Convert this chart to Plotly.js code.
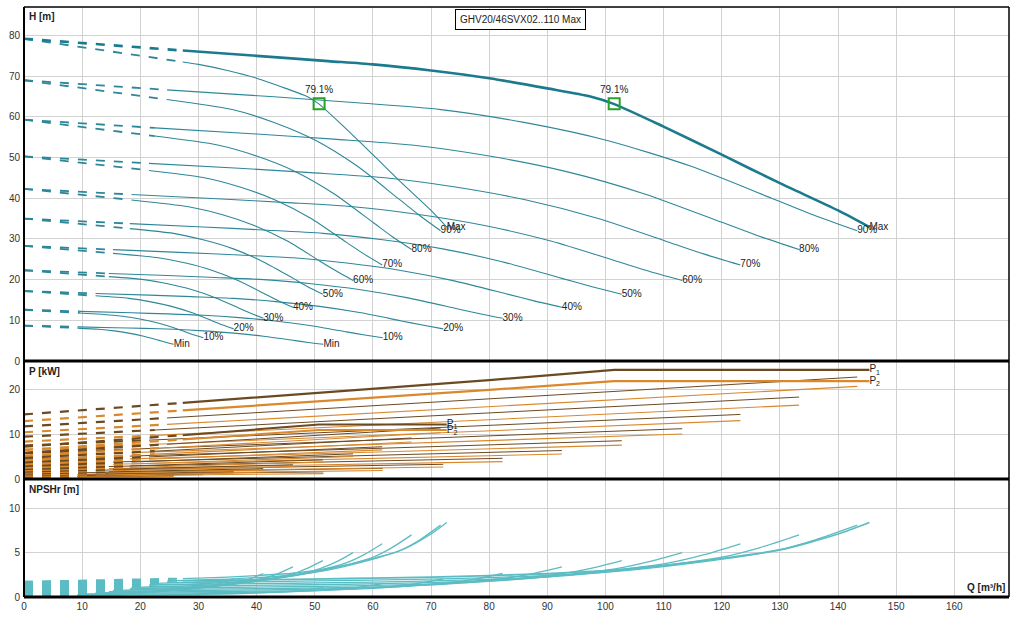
<!DOCTYPE html>
<html>
<head>
<meta charset="utf-8">
<script src="https://cdn.plot.ly/plotly-3.0.1.min.js"></script>
<style>html,body{margin:0;padding:0;background:#fff}</style>
</head>
<body>
<div id="chart" style="width:1030px;height:618px"></div>
<script>
// ---- data ----
const levels = ["Min","10%","20%","30%","40%","50%","60%","70%","80%","90%","Max"];
const title = "GHV20/46SVX02..110 Max";
const bepValue = "79.1%";
const bepQ = [50.75, 101.5];
const bepH = [63.2, 63.2];

// two pumps: flow points (first segment dashed), head and NPSHr at those points
const q2 = [
 [0, 9.2, 15.5, 20.6, 25.8, 30.9, 36.1, 41.2, 46.4, 48.9, 51.5],
 [0, 9.6, 18.5, 24.7, 30.9, 37.0, 43.2, 49.4, 55.5, 58.6, 61.7],
 [0, 12.3, 21.6, 28.8, 36.1, 43.3, 50.5, 57.7, 64.9, 68.5, 72.1],
 [0, 14.6, 24.7, 32.9, 41.2, 49.4, 57.6, 65.8, 74.1, 78.2, 82.3],
 [0, 15.3, 27.8, 37.0, 46.3, 55.5, 64.8, 74.0, 83.3, 87.9, 92.5],
 [0, 18.2, 30.8, 41.1, 51.4, 61.7, 72.0, 82.2, 92.5, 97.7, 102.8],
 [0, 18.5, 34.0, 45.3, 56.6, 67.9, 79.2, 90.6, 101.9, 107.5, 113.2],
 [0, 21.5, 37.0, 49.3, 61.6, 73.9, 86.2, 98.6, 110.9, 117.0, 123.2],
 [0, 22.5, 40.0, 53.3, 66.7, 80.0, 93.3, 106.6, 120.0, 126.6, 133.3],
 [0, 24.6, 43.0, 57.3, 71.7, 86.0, 100.3, 114.6, 129.0, 136.1, 143.3],
 [0, 27.3, 40, 52.3, 60, 70, 80, 90, 97.4, 101.4, 110, 120, 130, 140, 145.4]
];
const h2 = [
 [8.7, 8.39, 8.19, 8.01, 7.80, 7.41, 6.86, 6.08, 5.07, 4.56, 4.1],
 [12.6, 12.20, 11.84, 11.57, 11.25, 10.67, 9.84, 8.67, 7.15, 6.39, 5.7],
 [17.2, 16.60, 16.18, 15.81, 15.39, 14.60, 13.48, 11.90, 9.85, 8.83, 7.9],
 [22.3, 21.52, 21.00, 20.53, 20.00, 18.99, 17.58, 15.57, 12.98, 11.68, 10.5],
 [28.3, 27.36, 26.64, 26.04, 25.36, 24.07, 22.26, 19.69, 16.37, 14.71, 13.2],
 [35.0, 33.77, 32.95, 32.21, 31.37, 29.79, 27.56, 24.40, 20.31, 18.26, 16.4],
 [42.3, 40.93, 39.83, 38.93, 37.91, 36.0, 33.3, 29.48, 24.53, 22.05, 19.8],
 [50.3, 48.56, 47.36, 46.30, 45.09, 42.82, 39.62, 35.08, 29.21, 26.27, 23.6],
 [59.3, 57.29, 55.79, 54.52, 53.08, 50.37, 46.54, 41.12, 34.1, 30.59, 27.4],
 [69.0, 66.63, 64.93, 63.45, 61.79, 58.64, 54.2, 47.91, 39.77, 35.7, 32.0],
 [79.2, 76.3, 75.0, 73.7, 72.9, 71.4, 69.5, 67.0, 65.0, 63.2, 57.6, 50.7, 43.7, 37.0, 32.9]
];
const n2 = [
 [0.19, 0.21, 0.22, 0.24, 0.26, 0.30, 0.36, 0.49, 0.67, 0.84, 1.05],
 [0.27, 0.29, 0.32, 0.34, 0.37, 0.42, 0.52, 0.70, 0.96, 1.19, 1.5],
 [0.37, 0.40, 0.44, 0.47, 0.51, 0.58, 0.71, 0.96, 1.31, 1.63, 2.05],
 [0.48, 0.52, 0.57, 0.61, 0.66, 0.75, 0.91, 1.24, 1.70, 2.11, 2.65],
 [0.61, 0.67, 0.72, 0.78, 0.85, 0.96, 1.17, 1.59, 2.17, 2.70, 3.4],
 [0.75, 0.82, 0.88, 0.95, 1.03, 1.17, 1.42, 1.92, 2.63, 3.26, 4.1],
 [0.91, 0.99, 1.07, 1.16, 1.26, 1.42, 1.73, 2.34, 3.20, 3.98, 5.0],
 [1.08, 1.18, 1.28, 1.38, 1.50, 1.70, 2.06, 2.80, 3.84, 4.77, 6.0],
 [1.27, 1.38, 1.50, 1.61, 1.76, 1.99, 2.42, 3.28, 4.48, 5.57, 7.0],
 [1.48, 1.61, 1.74, 1.88, 2.04, 2.31, 2.80, 3.80, 5.19, 6.45, 8.1],
 [1.70, 1.85, 1.94, 2.05, 2.12, 2.24, 2.42, 2.62, 2.88, 3.03, 3.55, 4.35, 5.3, 7.1, 8.4]
];

// one pump
const q1 = [
 [0, 9.2, 12.9, 15.5, 18.0, 20.6, 23.2, 24.5, 25.75],
 [0, 9.6, 15.4, 18.5, 21.6, 24.7, 27.8, 29.3, 30.85],
 [0, 12.3, 18.0, 21.6, 25.2, 28.8, 32.4, 34.2, 36.05],
 [0, 14.6, 20.6, 24.7, 28.8, 32.9, 37.0, 39.1, 41.15],
 [0, 15.3, 23.1, 27.8, 32.4, 37.0, 41.6, 43.9, 46.25],
 [0, 18.2, 25.7, 30.8, 36.0, 41.1, 46.3, 48.8, 51.4],
 [0, 18.5, 28.3, 34.0, 39.6, 45.3, 50.9, 53.8, 56.6],
 [0, 21.5, 30.8, 37.0, 43.1, 49.3, 55.4, 58.5, 61.6],
 [0, 22.5, 33.3, 40.0, 46.7, 53.3, 60.0, 63.3, 66.65],
 [0, 24.6, 35.8, 43.0, 50.2, 57.3, 64.5, 68.1, 71.65],
 [0, 27.3, 30, 35, 40, 45, 48.7, 50.7, 55, 60, 65, 70, 72.7]
];
const h1 = [
 [8.7, 8.09, 7.80, 7.41, 6.86, 6.08, 5.07, 4.56, 4.1],
 [12.6, 11.81, 11.25, 10.67, 9.84, 8.67, 7.15, 6.39, 5.7],
 [17.2, 16.02, 15.39, 14.60, 13.48, 11.90, 9.85, 8.83, 7.9],
 [22.3, 20.73, 20.00, 18.99, 17.58, 15.57, 12.98, 11.68, 10.5],
 [28.3, 26.44, 25.36, 24.07, 22.26, 19.69, 16.37, 14.71, 13.2],
 [35.0, 32.54, 31.37, 29.79, 27.56, 24.40, 20.31, 18.26, 16.4],
 [42.3, 39.58, 37.91, 36.0, 33.3, 29.48, 24.53, 22.05, 19.8],
 [50.3, 46.83, 45.09, 42.82, 39.62, 35.08, 29.21, 26.27, 23.6],
 [59.3, 55.28, 53.08, 50.37, 46.54, 41.12, 34.1, 30.59, 27.4],
 [69.0, 64.26, 61.79, 58.64, 54.2, 47.91, 39.77, 35.7, 32.0],
 [79.2, 73.5, 72.9, 71.4, 69.5, 67.0, 65.0, 63.2, 57.6, 50.7, 43.7, 37.0, 32.9]
];
const n1 = [
 [0.19, 0.23, 0.26, 0.30, 0.36, 0.49, 0.67, 0.84, 1.05],
 [0.27, 0.32, 0.37, 0.42, 0.52, 0.70, 0.96, 1.19, 1.5],
 [0.37, 0.45, 0.51, 0.58, 0.71, 0.96, 1.31, 1.63, 2.05],
 [0.48, 0.59, 0.66, 0.75, 0.91, 1.24, 1.70, 2.11, 2.65],
 [0.61, 0.74, 0.85, 0.96, 1.17, 1.59, 2.17, 2.70, 3.4],
 [0.75, 0.92, 1.03, 1.17, 1.42, 1.92, 2.63, 3.26, 4.1],
 [0.91, 1.09, 1.26, 1.42, 1.73, 2.34, 3.20, 3.98, 5.0],
 [1.08, 1.33, 1.50, 1.70, 2.06, 2.80, 3.84, 4.77, 6.0],
 [1.27, 1.54, 1.76, 1.99, 2.42, 3.28, 4.48, 5.57, 7.0],
 [1.48, 1.80, 2.04, 2.31, 2.80, 3.80, 5.19, 6.45, 8.1],
 [1.70, 2.07, 2.12, 2.24, 2.42, 2.62, 2.88, 3.03, 3.55, 4.35, 5.3, 7.1, 8.4]
];

// power curves (P1 input, P2 shaft), two pumps and one pump
const pq2 = [
 [0, 9.2, 51.5], [0, 9.6, 61.7], [0, 12.3, 72.1], [0, 14.6, 82.3], [0, 15.3, 92.5],
 [0, 18.2, 102.8], [0, 18.5, 113.2], [0, 21.5, 123.2], [0, 22.5, 133.3], [0, 24.6, 143.3],
 [0, 27.3, 55.7, 80, 101.5, 145.4]
];
const p1_2 = [
 [0.85, 0.98, 1.6], [1.2, 1.39, 2.4], [1.7, 1.97, 3.3], [2.4, 2.80, 4.65], [3.3, 3.81, 6.4],
 [4.4, 5.14, 8.6], [5.8, 6.70, 11.3], [7.5, 8.73, 14.5], [9.5, 11.0, 18.4], [11.8, 13.71, 22.9],
 [14.5, 17.1, 19.8, 22.2, 24.5, 24.5]
];
const p2_2 = [
 [0.6, 0.71, 1.2], [0.9, 1.06, 1.9], [1.35, 1.58, 2.7], [2.0, 2.34, 3.9], [2.85, 3.30, 5.6],
 [3.85, 4.51, 7.6], [5.1, 5.92, 10.1], [6.6, 7.74, 13.1], [8.4, 9.79, 16.6], [10.5, 12.27, 20.8],
 [13.0, 15.4, 17.8, 20.0, 22.0, 22.0]
];
const pq1 = [
 [0, 9.2, 25.75], [0, 9.6, 30.85], [0, 12.3, 36.05], [0, 14.6, 41.15], [0, 15.3, 46.25],
 [0, 18.2, 51.4], [0, 18.5, 56.6], [0, 21.5, 61.6], [0, 22.5, 66.65], [0, 24.6, 71.65],
 [0, 27.3, 40, 50.75, 72.7]
];
const p1_1 = [
 [0.43, 0.56, 0.8], [0.6, 0.79, 1.2], [0.85, 1.12, 1.65], [1.2, 1.6, 2.33], [1.65, 2.16, 3.2],
 [2.2, 2.94, 4.3], [2.9, 3.8, 5.65], [3.75, 4.97, 7.25], [4.75, 6.25, 9.2], [5.9, 7.8, 11.45],
 [7.25, 9.85, 11.1, 12.25, 12.25]
];
const p2_1 = [
 [0.3, 0.41, 0.6], [0.45, 0.61, 0.95], [0.68, 0.91, 1.35], [1.0, 1.34, 1.95], [1.43, 1.88, 2.8],
 [1.93, 2.59, 3.8], [2.55, 3.37, 5.05], [3.3, 4.43, 6.55], [4.2, 5.59, 8.3], [5.25, 7.02, 10.4],
 [6.5, 8.85, 10.0, 11.0, 11.0]
];
const powerLabels = ["P<sub>1</sub>", "P<sub>2</sub>"];

// ---- drawing ----
const traces = [];
const last = a => a[a.length - 1];
const MAXI = levels.length - 1;
const DASH = '9px,9px';

function curve(xa, ya, qs, vs, color, w, wd, shape) {
  traces.push({x: qs.slice(0, 2), y: vs.slice(0, 2), xaxis: xa, yaxis: ya, mode: 'lines',
    line: {color: color, width: wd, dash: DASH}, hoverinfo: 'skip'});
  const ln = {color: color, width: w, shape: shape || 'spline'};
  if (ln.shape === 'spline') ln.smoothing = 0.7;
  traces.push({x: qs.slice(1), y: vs.slice(1), xaxis: xa, yaxis: ya, mode: 'lines',
    line: ln, hoverinfo: 'skip'});
}

const HC = '#2e8799', HCmax = '#1c7a8e';
const NC = '#5cbcc3';
const P1C = '#6b4a22', P2C = '#d9882c';

levels.forEach((lv, i) => {
  const isMax = i === MAXI;
  // head
  curve('x', 'y', q1[i], h1[i], HC, 1.1, 1.8);
  curve('x', 'y', q2[i], h2[i], isMax ? HCmax : HC, isMax ? 2.6 : 1.1, isMax ? 2.6 : 1.8);
  // power
  curve('x2', 'y2', pq2[i], p2_2[i], P2C, isMax ? 2.2 : 1.1, 2.2, 'linear');
  curve('x2', 'y2', pq1[i], p2_1[i], P2C, isMax ? 2 : 1.1, 2.2, 'linear');
  curve('x2', 'y2', pq2[i], p1_2[i], P1C, isMax ? 2.2 : 1, 2.2, 'linear');
  curve('x2', 'y2', pq1[i], p1_1[i], P1C, isMax ? 2 : 1, 2.2, 'linear');
  // NPSHr
  curve('x3', 'y3', q1[i], n1[i], NC, 1.3, 2.2);
  curve('x3', 'y3', q2[i], n2[i], NC, isMax ? 1.8 : 1.3, 2.2);
});

const txtFont = {family: 'Liberation Sans, Arial, sans-serif', size: 10, color: '#222'};
// curve end labels
traces.push({x: q2.map(last), y: h2.map(last), text: levels, mode: 'text', xaxis: 'x', yaxis: 'y',
  textposition: 'middle right', textfont: txtFont, hoverinfo: 'skip'});
traces.push({x: q1.map(last), y: h1.map(last), text: levels, mode: 'text', xaxis: 'x', yaxis: 'y',
  textposition: 'middle right', textfont: txtFont, hoverinfo: 'skip'});
// power labels
traces.push({x: [last(pq2[MAXI]), last(pq2[MAXI]), last(pq1[MAXI]), last(pq1[MAXI])],
  y: [last(p1_2[MAXI]), last(p2_2[MAXI]), last(p1_1[MAXI]), last(p2_1[MAXI])],
  text: [powerLabels[0], powerLabels[1], powerLabels[0], powerLabels[1]], mode: 'text',
  xaxis: 'x2', yaxis: 'y2', textposition: 'middle right', textfont: txtFont, hoverinfo: 'skip'});
// best efficiency markers
traces.push({x: bepQ, y: bepH, text: [bepValue, bepValue], mode: 'markers+text', xaxis: 'x', yaxis: 'y',
  marker: {symbol: 'square-open', size: 11, color: '#26a326', line: {width: 2, color: '#26a326'}},
  textposition: 'top center', textfont: txtFont, hoverinfo: 'skip'});

const grid = '#d2d2d2';
const tickFont = {family: 'Liberation Sans, Arial, sans-serif', size: 10, color: '#333'};
const xBase = {range: [0, 169.4], dtick: 10, tick0: 0, gridcolor: grid, gridwidth: 1, zeroline: false,
  showline: false, ticks: '', tickfont: tickFont, fixedrange: true};
const yBase = {gridcolor: grid, gridwidth: 1, zeroline: false, showline: false, ticks: '',
  tickfont: tickFont, fixedrange: true, ticklabelstandoff: 3};

const layout = {
  width: 1030, height: 618,
  margin: {l: 24, r: 21, t: 7, b: 21, pad: 0},
  paper_bgcolor: '#fff', plot_bgcolor: '#fff', showlegend: false,
  font: {family: 'Liberation Sans, Arial, sans-serif', size: 10, color: '#222'},
  xaxis: Object.assign({}, xBase, {anchor: 'y', showticklabels: false}),
  xaxis2: Object.assign({}, xBase, {anchor: 'y2', showticklabels: false}),
  xaxis3: Object.assign({}, xBase, {anchor: 'y3', showticklabels: true, ticklabelstandoff: 2}),
  yaxis: Object.assign({}, yBase, {domain: [0.4, 1], anchor: 'x', range: [0, 87], dtick: 10}),
  yaxis2: Object.assign({}, yBase, {domain: [0.2, 0.4], anchor: 'x2', range: [0, 26.5], dtick: 10}),
  yaxis3: Object.assign({}, yBase, {domain: [0, 0.2], anchor: 'x3', range: [0, 13.3], dtick: 5}),
  shapes: [
    {type: 'line', xref: 'paper', yref: 'paper', x0: 0, x1: 1, y0: 1, y1: 1, line: {color: '#000', width: 1.5}},
    {type: 'line', xref: 'paper', yref: 'paper', x0: 1, x1: 1, y0: 0, y1: 1, line: {color: '#000', width: 1.5}},
    {type: 'line', xref: 'paper', yref: 'paper', x0: 0, x1: 0, y0: 0, y1: 1, line: {color: '#000', width: 2}},
    {type: 'line', xref: 'paper', yref: 'paper', x0: 0, x1: 1, y0: 0.4, y1: 0.4, line: {color: '#000', width: 3}},
    {type: 'line', xref: 'paper', yref: 'paper', x0: 0, x1: 1, y0: 0.2, y1: 0.2, line: {color: '#000', width: 3}},
    {type: 'line', xref: 'paper', yref: 'paper', x0: 0, x1: 1, y0: 0, y1: 0, line: {color: '#000', width: 3}}
  ],
  annotations: [
    {text: title, xref: 'paper', yref: 'paper', x: 0.5036, y: 1, xanchor: 'center', yanchor: 'top', yshift: -2,
     showarrow: false, bgcolor: '#fff', bordercolor: '#000', borderwidth: 1, borderpad: 4,
     font: {family: 'Liberation Sans, Arial, sans-serif', size: 10, color: '#222'}},
    {text: '<b>H [m]</b>', xref: 'paper', yref: 'paper', x: 0, y: 1, xanchor: 'left', yanchor: 'top',
     xshift: 3, yshift: -2, showarrow: false, font: {size: 10, color: '#222'}},
    {text: '<b>P [kW]</b>', xref: 'paper', yref: 'paper', x: 0, y: 0.4, xanchor: 'left', yanchor: 'top',
     xshift: 3, yshift: -3, showarrow: false, font: {size: 10, color: '#222'}},
    {text: '<b>NPSHr [m]</b>', xref: 'paper', yref: 'paper', x: 0, y: 0.2, xanchor: 'left', yanchor: 'top',
     xshift: 3, yshift: -3, showarrow: false, font: {size: 10, color: '#222'}},
    {text: '<b>Q [m³/h]</b>', xref: 'paper', yref: 'paper', x: 1, y: 0, xanchor: 'right', yanchor: 'bottom',
     xshift: -2, yshift: 2, showarrow: false, font: {size: 10, color: '#222'}}
  ]
};

Plotly.newPlot('chart', traces, layout, {staticPlot: true, displayModeBar: false});
</script>
</body>
</html>
